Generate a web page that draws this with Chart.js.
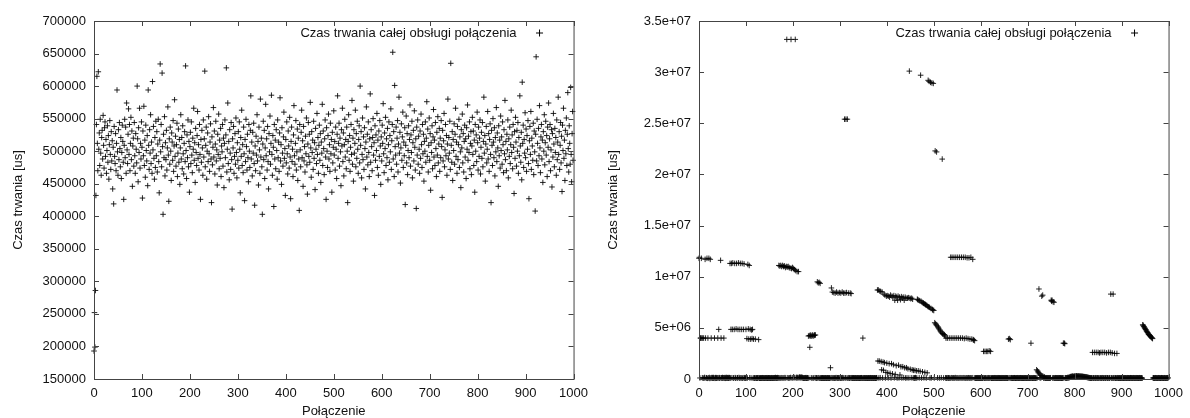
<!DOCTYPE html>
<html>
<head>
<meta charset="utf-8">
<script src="https://cdn.jsdelivr.net/npm/chart.js@4.4.0/dist/chart.umd.min.js"></script>
<style>
    body { margin: 0; background: #fff; }
    .wykres { position: absolute; top: 0; width: 595px; height: 418px; }
</style>
</head>
<body>
<div class="wykres" style="left:0"><canvas id="wykres1" width="595" height="418"></canvas></div>
<div class="wykres" style="left:595px"><canvas id="wykres2" width="595" height="418"></canvas></div>
<script>
// opisy
const etykietaSerii = 'Czas trwania całej obsługi połączenia';
const tytulX = 'Połączenie';
const tytulY = 'Czas trwania [us]';

// etykiety osi
const etykietyX = ['0', '100', '200', '300', '400', '500', '600', '700', '800', '900', '1000'];
const lewyEtykietyY = ['150000', '200000', '250000', '300000', '350000', '400000', '450000', '500000', '550000', '600000', '650000', '700000'];
const prawyEtykietyY = ['0', '5e+06', '1e+07', '1.5e+07', '2e+07', '2.5e+07', '3e+07', '3.5e+07'];

// lewy wykres - czas obslugi kolejnych polaczen [us]
const lewyCzas = [
    193000, 252000, 199000, 286000, 432000, 541000, 615000, 512000, 470000, 622000,
    503000, 528000, 478000, 549000, 497000, 463000, 521000, 532000, 488000, 555000,
    509000, 474000, 536000, 545000, 492000, 518000, 466000, 501000, 539000, 483000,
    524000, 457000, 510000, 547000, 495000, 472000, 530000, 485000, 516000, 442000,
    506000, 419000, 538000, 492000, 481000, 527000, 470000, 512000, 594000, 499000,
    463000, 533000, 487000, 544000, 504000, 476000, 521000, 458000, 498000, 540000,
    515000, 483000, 426000, 509000, 549000, 490000, 537000, 466000, 574000, 502000,
    481000, 526000, 565000, 495000, 541000, 470000, 512000, 552000, 487000, 531000,
    446000, 508000, 520000, 477000, 544000, 493000, 466000, 527000, 503000, 482000,
    600000, 519000, 453000, 536000, 498000, 566000, 474000, 512000, 488000, 545000,
    506000, 428000, 531000, 493000, 569000, 478000, 517000, 460000, 540000, 501000,
    485000, 524000, 447000, 594000, 509000, 472000, 533000, 497000, 556000, 481000,
    514000, 466000, 607000, 502000, 538000, 489000, 457000, 521000, 475000, 546000,
    493000, 530000, 468000, 511000, 549000, 484000, 436000, 517000, 634000, 499000,
    541000, 476000, 620000, 507000, 403000, 526000, 490000, 553000, 462000, 513000,
    487000, 532000, 471000, 505000, 568000, 494000, 423000, 519000, 480000, 537000,
    500000, 455000, 528000, 514000, 486000, 547000, 469000, 508000, 579000, 492000,
    523000, 477000, 510000, 543000, 461000, 497000, 534000, 483000, 518000, 449000,
    505000, 556000, 488000, 521000, 473000, 539000, 496000, 465000, 512000, 530000,
    484000, 631000, 501000, 458000, 525000, 490000, 548000, 476000, 515000, 437000,
    507000, 529000, 481000, 545000, 494000, 467000, 520000, 503000, 566000, 486000,
    513000, 452000, 535000, 498000, 478000, 524000, 561000, 489000, 510000, 471000,
    541000, 495000, 426000, 518000, 483000, 532000, 505000, 463000, 548000, 491000,
    519000, 623000, 476000, 509000, 537000, 457000, 500000, 528000, 484000, 553000,
    496000, 469000, 514000, 542000, 488000, 421000, 522000, 479000, 506000, 567000,
    491000, 531000, 465000, 511000, 546000, 485000, 502000, 448000, 526000, 495000,
    557000, 473000, 517000, 489000, 535000, 461000, 508000, 499000, 541000, 477000,
    520000, 444000, 512000, 548000, 490000, 525000, 628000, 468000, 503000, 574000,
    481000, 515000, 456000, 533000, 497000, 472000, 544000, 487000, 411000, 519000,
    505000, 538000, 466000, 492000, 527000, 480000, 551000, 498000, 459000, 513000,
    486000, 530000, 474000, 545000, 503000, 436000, 521000, 492000, 563000, 478000,
    510000, 467000, 537000, 496000, 424000, 518000, 484000, 549000, 507000, 471000,
    526000, 490000, 453000, 541000, 500000, 475000, 532000, 585000, 488000, 514000,
    462000, 529000, 497000, 543000, 481000, 417000, 508000, 470000, 523000, 494000,
    556000, 485000, 515000, 448000, 537000, 502000, 466000, 580000, 491000, 520000,
    476000, 403000, 511000, 546000, 487000, 532000, 458000, 505000, 572000, 493000,
    519000, 471000, 538000, 484000, 442000, 527000, 499000, 554000, 480000, 512000,
    586000, 495000, 463000, 524000, 506000, 415000, 541000, 488000, 517000, 473000,
    533000, 501000, 457000, 548000, 490000, 514000, 469000, 528000, 582000, 485000,
    510000, 449000, 536000, 497000, 477000, 522000, 560000, 489000, 504000, 432000,
    518000, 482000, 545000, 496000, 465000, 531000, 508000, 474000, 552000, 491000,
    427000, 515000, 537000, 484000, 503000, 461000, 525000, 570000, 493000, 480000,
    512000, 547000, 471000, 499000, 534000, 455000, 520000, 488000, 409000, 541000,
    502000, 476000, 529000, 563000, 490000, 516000, 446000, 538000, 485000, 507000,
    468000, 523000, 496000, 551000, 479000, 434000, 511000, 544000, 492000, 526000,
    483000, 575000, 505000, 460000, 530000, 498000, 517000, 472000, 546000, 489000,
    513000, 441000, 535000, 503000, 481000, 558000, 495000, 521000, 466000, 509000,
    540000, 486000, 527000, 452000, 514000, 497000, 572000, 478000, 531000, 504000,
    464000, 519000, 548000, 491000, 426000, 536000, 500000, 475000, 524000, 557000,
    488000, 510000, 469000, 543000, 496000, 518000, 437000, 529000, 482000, 506000,
    562000, 494000, 515000, 471000, 537000, 503000, 458000, 526000, 585000, 489000,
    512000, 543000, 477000, 520000, 499000, 447000, 533000, 508000, 566000, 484000,
    528000, 462000, 510000, 549000, 491000, 518000, 473000, 537000, 500000, 421000,
    515000, 556000, 486000, 524000, 469000, 506000, 541000, 495000, 578000, 480000,
    520000, 454000, 533000, 497000, 512000, 563000, 476000, 527000, 489000, 546000,
    503000, 466000, 518000, 539000, 482000, 600000, 509000, 530000, 459000, 495000,
    551000, 487000, 522000, 472000, 536000, 504000, 442000, 514000, 568000, 491000,
    526000, 479000, 545000, 498000, 461000, 519000, 588000, 483000, 533000, 507000,
    470000, 521000, 550000, 494000, 513000, 432000, 539000, 486000, 525000, 501000,
    558000, 475000, 517000, 463000, 531000, 492000, 547000, 508000, 449000, 522000,
    485000, 540000, 512000, 573000, 496000, 467000, 528000, 504000, 552000, 478000,
    519000, 490000, 535000, 456000, 510000, 545000, 483000, 524000, 499000, 565000,
    472000, 516000, 541000, 652000, 488000, 530000, 461000, 601000, 507000, 494000,
    537000, 480000, 520000, 547000, 468000, 511000, 583000, 497000, 529000, 451000,
    505000, 542000, 486000, 522000, 560000, 475000, 514000, 493000, 536000, 418000,
    509000, 554000, 482000, 527000, 464000, 501000, 539000, 490000, 518000, 571000,
    477000, 525000, 498000, 546000, 459000, 513000, 532000, 485000, 562000, 506000,
    471000, 519000, 412000, 537000, 494000, 548000, 480000, 523000, 503000, 466000,
    531000, 489000, 557000, 510000, 475000, 541000, 496000, 526000, 454000, 515000,
    500000, 545000, 483000, 520000, 576000, 492000, 534000, 468000, 509000, 551000,
    486000, 527000, 440000, 513000, 498000, 539000, 473000, 522000, 564000, 491000,
    517000, 478000, 544000, 504000, 461000, 529000, 494000, 553000, 482000, 511000,
    535000, 469000, 520000, 490000, 547000, 507000, 429000, 532000, 485000, 516000,
    558000, 476000, 502000, 541000, 493000, 524000, 463000, 511000, 580000, 488000,
    521000, 497000, 546000, 472000, 635000, 509000, 483000, 530000, 455000, 518000,
    501000, 542000, 480000, 526000, 566000, 492000, 514000, 466000, 538000, 487000,
    510000, 549000, 475000, 522000, 499000, 444000, 533000, 505000, 557000, 482000,
    527000, 468000, 515000, 540000, 491000, 519000, 458000, 536000, 503000, 571000,
    486000, 523000, 498000, 545000, 473000, 512000, 530000, 464000, 508000, 552000,
    495000, 531000, 478000, 517000, 437000, 541000, 500000, 525000, 484000, 560000,
    513000, 471000, 537000, 492000, 520000, 548000, 465000, 506000, 529000, 489000,
    544000, 476000, 515000, 583000, 497000, 524000, 454000, 511000, 538000, 482000,
    503000, 561000, 488000, 527000, 469000, 518000, 542000, 495000, 421000, 532000,
    509000, 478000, 550000, 514000, 490000, 536000, 462000, 521000, 499000, 567000,
    484000, 528000, 505000, 446000, 539000, 493000, 517000, 474000, 554000, 501000,
    522000, 480000, 545000, 510000, 467000, 533000, 496000, 578000, 487000, 515000,
    470000, 526000, 502000, 548000, 459000, 519000, 492000, 537000, 481000, 510000,
    563000, 498000, 525000, 473000, 541000, 506000, 435000, 530000, 489000, 552000,
    514000, 477000, 532000, 500000, 544000, 466000, 521000, 493000, 585000, 508000,
    483000, 529000, 456000, 606000, 512000, 540000, 475000, 518000, 497000, 559000,
    490000, 534000, 469000, 524000, 503000, 547000, 481000, 427000, 516000, 538000,
    495000, 561000, 472000, 520000, 508000, 486000, 543000, 464000, 531000, 499000,
    408000, 526000, 645000, 485000, 549000, 512000, 478000, 535000, 493000, 570000,
    505000, 467000, 522000, 541000, 488000, 517000, 452000, 530000, 500000, 556000,
    479000, 513000, 546000, 494000, 524000, 461000, 537000, 506000, 574000, 484000,
    519000, 541000, 470000, 502000, 533000, 445000, 527000, 491000, 558000, 511000,
    476000, 535000, 498000, 521000, 463000, 548000, 487000, 514000, 583000, 495000,
    530000, 472000, 509000, 544000, 482000, 523000, 438000, 540000, 501000, 566000,
    489000, 517000, 455000, 532000, 496000, 551000, 478000, 526000, 590000, 504000,
    468000, 539000, 512000, 480000, 598000, 495000, 453000, 527000, 561000, 486000
];

// prawy wykres - czas obslugi kolejnych polaczen [us]
const prawyCzas = [
    11.8e6, 11.9e6, 1e5, 4.0e6, 4.0e6, 11.8e6, 4.0e6, 1.2e5, 4.0e6, 8e4,
    4.0e6, 1e5, 1.5e5, 11.7e6, 4.0e6, 9e4, 1.2e5, 11.8e6, 7e4, 4.0e6,
    1.1e5, 11.8e6, 1.4e5, 6e4, 11.7e6, 1e5, 4.0e6, 1.3e5, 8e4, 1.1e5,
    1.5e5, 9e4, 1.2e5, 4.0e6, 7e4, 1.1e5, 1.4e5, 1e5, 8e4, 1.2e5,
    4.0e6, 1e5, 4.85e6, 1.3e5, 9e4, 1.1e5, 11.6e6, 4.0e6, 1.2e5, 8e4,
    1.4e5, 1e5, 1.2e5, 4.0e6, 1e5, 1.3e5, 7e4, 1.1e5, 1.5e5, 9e4,
    1.2e5, 1e5, 1.4e5, 8e4, 1.1e5, 1.3e5, 11.3e6, 1e5, 4.85e6, 11.3e6,
    1.2e5, 4.85e6, 11.35e6, 9e4, 1.1e5, 4.85e6, 11.3e6, 1.3e5, 8e4, 4.9e6,
    11.3e6, 1e5, 1.2e5, 4.85e6, 11.35e6, 1.4e5, 9e4, 4.85e6, 11.3e6, 1.1e5,
    1e5, 4.85e6, 11.3e6, 8e4, 1.2e5, 4.85e6, 11.25e6, 1e5, 1.3e5, 9e4,
    4.85e6, 1.1e5, 3.95e6, 1e5, 11.2e6, 4.9e6, 3.9e6, 11.1e6, 1.2e5, 4.85e6,
    3.9e6, 1e5, 4.8e6, 3.95e6, 4.85e6, 8e4, 3.9e6, 1.1e5, 1e5, 9e4,
    3.9e6, 1e5, 8e4, 1.1e5, 9e4, 1e5, 1.2e5, 3.85e6, 1e5, 8e4,
    1e5, 9e4, 1.1e5, 1e5, 8e4, 1.2e5, 1e5, 9e4, 1.1e5, 1e5,
    8e4, 1e5, 1.1e5, 9e4, 1e5, 1.2e5, 8e4, 1e5, 1.1e5, 9e4,
    1e5, 1.1e5, 8e4, 1e5, 9e4, 1.2e5, 1e5, 8e4, 1.1e5, 1e5,
    9e4, 1.2e5, 1e5, 1.4e5, 8e4, 1.1e5, 1e5, 1.3e5, 9e4, 1.2e5,
    11.1e6, 1e5, 11.05e6, 9e4, 11.1e6, 1.2e5, 11.0e6, 1e5, 11.1e6, 1.1e5,
    11.0e6, 1e5, 11.05e6, 1.3e5, 10.9e6, 1e5, 11.0e6, 33.2e6, 10.95e6, 1.2e5,
    11.0e6, 9e4, 10.9e6, 1.1e5, 10.85e6, 1.4e5, 33.2e6, 10.8e6, 1e5, 10.9e6,
    1.2e5, 10.8e6, 1.5e5, 10.7e6, 1.3e5, 33.2e6, 10.6e6, 1e5, 1.6e5, 10.5e6,
    1.4e5, 1.2e5, 10.5e6, 1.5e5, 1.8e5, 1.2e5, 1.6e5, 1.4e5, 1.7e5, 1.3e5,
    1.5e5, 1.2e5, 1e5, 8e4, 1.1e5, 9e4, 1.2e5, 1e5, 1.3e5, 8e4,
    1e5, 1.2e5, 8e4, 4.2e6, 1e5, 4.25e6, 3.1e6, 4.2e6, 4.3e6, 1.1e5,
    4.2e6, 9e4, 4.3e6, 4.2e6, 1e5, 4.25e6, 4.3e6, 1.2e5, 4.3e6, 1e5,
    1.1e5, 9e4, 9.5e6, 1e5, 9.4e6, 1.2e5, 9.45e6, 8e4, 9.35e6, 1e5,
    8e4, 1e5, 9e4, 1.1e5, 8e4, 1e5, 9e4, 1e5, 8e4, 1.1e5,
    1e5, 9e4, 8e4, 1e5, 1.1e5, 9e4, 1e5, 8e4, 1e5, 9e4,
    1.1e6, 1e5, 8.9e6, 1.2e5, 8.5e6, 9e4, 1e5, 8.45e6, 1.1e5, 8e4,
    8.4e6, 1e5, 1.3e5, 8.5e6, 9e4, 1.1e5, 8.4e6, 1e5, 1.2e5, 8.45e6,
    1e5, 8e4, 8.4e6, 1.1e5, 1e5, 8.5e6, 1.3e5, 9e4, 8.4e6, 1e5,
    25.4e6, 8.4e6, 1.1e5, 25.4e6, 8.45e6, 1e5, 25.4e6, 8e4, 8.4e6, 1.2e5,
    1e5, 9e4, 8.4e6, 1.1e5, 8.35e6, 1e5, 1.2e5, 9e4, 1e5, 1.1e5,
    8e4, 1e5, 9e4, 1.1e5, 1e5, 8e4, 1e5, 9e4, 1.1e5, 1e5,
    9e4, 1e5, 8e4, 1.1e5, 1e5, 9e4, 1.2e5, 1e5, 8e4, 4.0e6,
    1e5, 9e4, 1.1e5, 1e5, 8e4, 1e5, 1.1e5, 9e4, 1e5, 8e4,
    1.1e5, 1e5, 9e4, 1e5, 8e4, 1.2e5, 1e5, 9e4, 1e5, 1.1e5,
    1e5, 8e4, 1e5, 9e4, 1.1e5, 1e5, 8e4, 1e5, 1.2e5, 9e4,
    8.7e6, 1.76e6, 8.7e6, 1e5, 1.75e6, 8.6e6, 1.2e5, 8.55e6, 1.7e6, 0.9e6,
    8.5e6, 1e5, 1.65e6, 0.85e6, 8.3e6, 1.6e6, 8.2e6, 1e5, 0.65e6, 8.1e6,
    1.55e6, 8.15e6, 0.6e6, 1.1e5, 8.1e6, 1.5e6, 8.0e6, 0.55e6, 8.2e6, 1e5,
    1.5e6, 8.1e6, 0.5e6, 8.0e6, 1.4e6, 8.15e6, 1.2e5, 7.7e6, 0.45e6, 8.1e6,
    1.3e6, 8.0e6, 1e5, 7.7e6, 8.1e6, 1.35e6, 1.1e5, 8.0e6, 0.4e6, 7.75e6,
    1.2e6, 8.05e6, 1e5, 7.9e6, 1.2e6, 8.0e6, 1.3e5, 7.7e6, 1.1e6, 8.0e6,
    1e5, 7.9e6, 1.1e6, 1.1e5, 7.9e6, 1.0e6, 7.95e6, 1e5, 30.1e6, 7.9e6,
    0.95e6, 7.85e6, 1.2e5, 7.9e6, 0.9e6, 7.8e6, 1e5, 0.85e6, 1.1e5, 1e5,
    0.85e6, 1.3e5, 1e5, 0.8e6, 1e5, 7.8e6, 7.75e6, 0.8e6, 7.7e6, 1.1e5,
    7.65e6, 0.75e6, 29.7e6, 7.6e6, 1e5, 7.5e6, 0.7e6, 7.45e6, 7.4e6, 1.2e5,
    7.35e6, 0.65e6, 7.3e6, 7.25e6, 1e5, 7.2e6, 0.6e6, 7.1e6, 29.2e6, 7.05e6,
    29.1e6, 7.0e6, 1e5, 29.0e6, 6.9e6, 1.2e5, 28.95e6, 6.8e6, 6.75e6, 28.9e6,
    6.7e6, 1e5, 5.5e6, 22.3e6, 5.4e6, 5.3e6, 22.2e6, 5.2e6, 1.1e5, 5.1e6,
    5.0e6, 4.9e6, 1e5, 4.8e6, 4.7e6, 4.6e6, 1.2e5, 4.5e6, 21.5e6, 4.45e6,
    4.4e6, 1e5, 4.35e6, 4.3e6, 4.2e6, 1.1e5, 4.0e6, 1e5, 9e4, 4.0e6,
    1.2e5, 1e5, 1.1e5, 4.0e6, 1e5, 8e4, 11.9e6, 4.0e6, 1.2e5, 11.9e6,
    1e5, 4.0e6, 1.1e5, 11.9e6, 1e5, 4.0e6, 1.3e5, 11.9e6, 1e5, 4.0e6,
    1.1e5, 11.9e6, 9e4, 4.0e6, 1e5, 11.9e6, 1.2e5, 4.0e6, 1e5, 11.9e6,
    1.1e5, 4.0e6, 1e5, 11.9e6, 1.2e5, 3.95e6, 1e5, 11.9e6, 9e4, 4.0e6,
    1.1e5, 11.85e6, 1e5, 3.95e6, 1.2e5, 11.85e6, 1e5, 3.9e6, 1.1e5, 11.9e6,
    1e5, 3.9e6, 1.2e5, 11.7e6, 3.85e6, 3.8e6, 1e5, 3.75e6, 1e5, 9e4,
    1.1e5, 1e5, 8e4, 1e5, 1.2e5, 9e4, 1e5, 1.1e5, 8e4, 1e5,
    9e4, 1.1e5, 1e5, 8e4, 1e5, 1.2e5, 2.7e6, 1e5, 9e4, 2.7e6,
    1e5, 1.1e5, 2.7e6, 8e4, 1e5, 2.7e6, 1.2e5, 9e4, 2.75e6, 1e5,
    1.1e5, 2.7e6, 1e5, 8e4, 1e5, 9e4, 1.1e5, 1e5, 8e4, 1e5,
    1.2e5, 9e4, 1e5, 1.1e5, 8e4, 1e5, 9e4, 1.2e5, 1e5, 8e4,
    1e5, 1.1e5, 9e4, 1e5, 8e4, 1.2e5, 1e5, 9e4, 1.1e5, 1e5,
    8e4, 1e5, 1.2e5, 9e4, 1e5, 1.1e5, 8e4, 1e5, 9e4, 3.9e6,
    1e5, 3.95e6, 1.1e5, 3.85e6, 1e5, 9e4, 1.2e5, 1e5, 8e4, 1.1e5,
    1e5, 9e4, 1.2e5, 1e5, 8e4, 1.1e5, 1e5, 9e4, 1e5, 1.2e5,
    8e4, 1e5, 1.1e5, 9e4, 1e5, 1.2e5, 8e4, 1e5, 1.1e5, 9e4,
    1e5, 8e4, 1.2e5, 1e5, 9e4, 1.1e5, 1e5, 8e4, 1e5, 1.2e5,
    9e4, 1e5, 1.1e5, 8e4, 1e5, 1.2e5, 9e4, 3.5e6, 1e5, 1.1e5,
    8e4, 1e5, 9e4, 1.2e5, 1e5, 1.1e5, 8e4, 1e5, 9e4, 0.9e6,
    1e5, 0.8e6, 0.7e6, 0.6e6, 8.8e6, 0.5e6, 1.2e5, 0.4e6, 1e5, 0.35e6,
    8.1e6, 0.3e6, 8.2e6, 0.25e6, 1e5, 9e4, 0.2e6, 1.1e5, 1e5, 8e4,
    1e5, 1.2e5, 9e4, 1e5, 1.1e5, 8e4, 1e5, 9e4, 1.2e5, 1e5,
    7.7e6, 7.6e6, 7.7e6, 1e5, 7.55e6, 1.1e5, 7.5e6, 9e4, 1e5, 1.2e5,
    8e4, 1e5, 1.1e5, 9e4, 1e5, 1.2e5, 8e4, 1e5, 1.1e5, 9e4,
    1e5, 1.2e5, 8e4, 1e5, 9e4, 1.1e5, 3.5e6, 1e5, 3.5e6, 3.45e6,
    1e5, 1.2e5, 9e4, 1.1e5, 1e5, 1.3e5, 1.5e5, 1.2e5, 1.6e5, 1.4e5,
    2e5, 2.3e5, 1.8e5, 2.5e5, 2.2e5, 2.8e5, 2.4e5, 2.6e5, 2.1e5, 2.7e5,
    2.5e5, 2.9e5, 2.3e5, 2.7e5, 3e5, 2.6e5, 2.8e5, 2.4e5, 2.9e5, 2.6e5,
    2.7e5, 2.5e5, 2.8e5, 2.3e5, 2.6e5, 2.4e5, 2.7e5, 2.2e5, 2.5e5, 2.1e5,
    2.3e5, 2e5, 2.2e5, 1.8e5, 2.1e5, 1.7e5, 1.9e5, 1.5e5, 1.6e5, 1.3e5,
    1.4e5, 1.1e5, 1.2e5, 1e5, 9e4, 1.1e5, 1e5, 8e4, 2.6e6, 1e5,
    1.1e5, 9e4, 2.6e6, 1e5, 8e4, 1.2e5, 2.6e6, 1e5, 9e4, 1.1e5,
    2.6e6, 1e5, 8e4, 2.55e6, 1.1e5, 1e5, 2.6e6, 9e4, 1e5, 1.2e5,
    2.6e6, 1e5, 8e4, 1.1e5, 2.6e6, 1e5, 9e4, 1.2e5, 2.55e6, 1e5,
    1.1e5, 8e4, 2.6e6, 1e5, 9e4, 1.2e5, 2.6e6, 8.3e6, 1e5, 1.1e5,
    2.55e6, 9e4, 8.3e6, 1e5, 1.2e5, 2.5e6, 8e4, 1e5, 1.1e5, 9e4,
    2.5e6, 1e5, 1.2e5, 8e4, 1e5, 1.1e5, 9e4, 1e5, 8e4, 1.2e5,
    1e5, 9e4, 1.1e5, 1e5, 8e4, 1.2e5, 1e5, 9e4, 1.1e5, 1e5,
    8e4, 1e5, 1.2e5, 9e4, 1e5, 1.1e5, 8e4, 1e5, 9e4, 1.2e5,
    1e5, 1.1e5, 8e4, 1e5, 9e4, 1.2e5, 1e5, 8e4, 1.1e5, 1e5,
    9e4, 1.2e5, 1e5, 8e4, 1.1e5, 1e5, 9e4, 1e5, 1.2e5, 8e4,
    1e5, 9e4, 1.1e5, 1e5, 8e4, 5.3e6, 5.25e6, 5.15e6, 5.1e6, 5.0e6,
    4.95e6, 4.85e6, 4.8e6, 4.7e6, 4.65e6, 4.55e6, 4.5e6, 4.4e6, 4.35e6, 4.3e6,
    4.25e6, 4.2e6, 4.15e6, 4.1e6, 4.05e6, 4.0e6, 3.95e6, 1e5, 1.1e5, 9e4,
    1e5, 8e4, 1.2e5, 1e5, 9e4, 1.1e5, 1e5, 8e4, 1e5, 1.2e5,
    9e4, 1e5, 1.1e5, 8e4, 1e5, 1.2e5, 9e4, 1e5, 1.1e5, 8e4,
    1e5, 1.2e5, 9e4, 1e5, 8e4, 1.1e5, 1e5, 9e4, 1.2e5, 1e5
];

const czcionka = '"Liberation Sans", Arial, sans-serif';

// ramka z kreskami do srodka i legenda w stylu gnuplota
const ramkaGnuplot = {
    id: 'ramkaGnuplot',
    afterDraw(chart) {
        const ctx = chart.ctx;
        const a = chart.chartArea;
        const sx = chart.scales.x;
        const sy = chart.scales.y;
        ctx.save();
        ctx.strokeStyle = '#444';
        ctx.lineWidth = 1;
        ctx.beginPath();
        sx.ticks.forEach(t => {
            const px = Math.round(sx.getPixelForValue(t.value)) + 0.5;
            ctx.moveTo(px, a.bottom); ctx.lineTo(px, a.bottom - 5);
            ctx.moveTo(px, a.top); ctx.lineTo(px, a.top + 5);
        });
        sy.ticks.forEach(t => {
            const py = Math.round(sy.getPixelForValue(t.value)) + 0.5;
            ctx.moveTo(a.left, py); ctx.lineTo(a.left + 5, py);
            ctx.moveTo(a.right, py); ctx.lineTo(a.right - 5, py);
        });
        ctx.stroke();
        ctx.strokeRect(a.left + 0.5, a.top + 0.5, a.right - a.left, a.bottom - a.top);

        // legenda
        const yl = a.top + 12;
        ctx.font = '13px ' + czcionka;
        ctx.fillStyle = '#111';
        ctx.textAlign = 'right';
        ctx.textBaseline = 'middle';
        ctx.fillText(chart.data.datasets[0].label, a.right - 57, yl);
        const xl = a.right - 34;
        ctx.strokeStyle = '#000';
        ctx.beginPath();
        ctx.moveTo(xl - 3.5, yl); ctx.lineTo(xl + 3.5, yl);
        ctx.moveTo(xl, yl - 3.5); ctx.lineTo(xl, yl + 3.5);
        ctx.stroke();
        ctx.restore();
    }
};

function rysuj(idCanvas, czasy, yMin, yMax, yKrok, etykietyY, szerOsiY) {
    const punkty = czasy.map((v, i) => ({ x: i, y: v }));
    return new Chart(document.getElementById(idCanvas), {
        type: 'scatter',
        data: {
            datasets: [{
                label: etykietaSerii,
                data: punkty,
                pointStyle: 'cross',
                pointRadius: 2.8,
                pointHoverRadius: 2.8,
                borderColor: 'rgba(0, 0, 0, 0.85)',
                backgroundColor: '#000',
                borderWidth: 1,
                clip: false
            }]
        },
        options: {
            responsive: false,
            animation: false,
            devicePixelRatio: 1,
            events: [],
            layout: { padding: { top: 21, right: 16, left: 0, bottom: 0 } },
            plugins: {
                legend: { display: false },
                tooltip: { enabled: false }
            },
            scales: {
                x: {
                    type: 'linear',
                    min: 0,
                    max: 1000,
                    afterFit(scale) { scale.height = 39; },
                    grid: { display: false, drawTicks: false },
                    border: { display: false },
                    ticks: {
                        stepSize: 100,
                        padding: 7,
                        color: '#111',
                        font: { family: czcionka, size: 13 },
                        maxRotation: 0,
                        callback: (v, i) => etykietyX[i]
                    },
                    title: {
                        display: true,
                        text: tytulX,
                        color: '#111',
                        padding: 0,
                        font: { family: czcionka, size: 13, lineHeight: 1 }
                    }
                },
                y: {
                    min: yMin,
                    max: yMax,
                    afterFit(scale) { scale.width = szerOsiY; },
                    grid: { display: false, drawTicks: false },
                    border: { display: false },
                    ticks: {
                        stepSize: yKrok,
                        padding: 8,
                        color: '#111',
                        font: { family: czcionka, size: 13 },
                        callback: (v, i) => etykietyY[i]
                    },
                    title: {
                        display: true,
                        text: tytulY,
                        color: '#111',
                        padding: { top: 11.5, bottom: 0 },
                        font: { family: czcionka, size: 13, lineHeight: 1 }
                    }
                }
            }
        },
        plugins: [ramkaGnuplot]
    });
}

rysuj('wykres1', lewyCzas, 150000, 700000, 50000, lewyEtykietyY, 94);
rysuj('wykres2', prawyCzas, 0, 35000000, 5000000, prawyEtykietyY, 104);
</script>
</body>
</html>
